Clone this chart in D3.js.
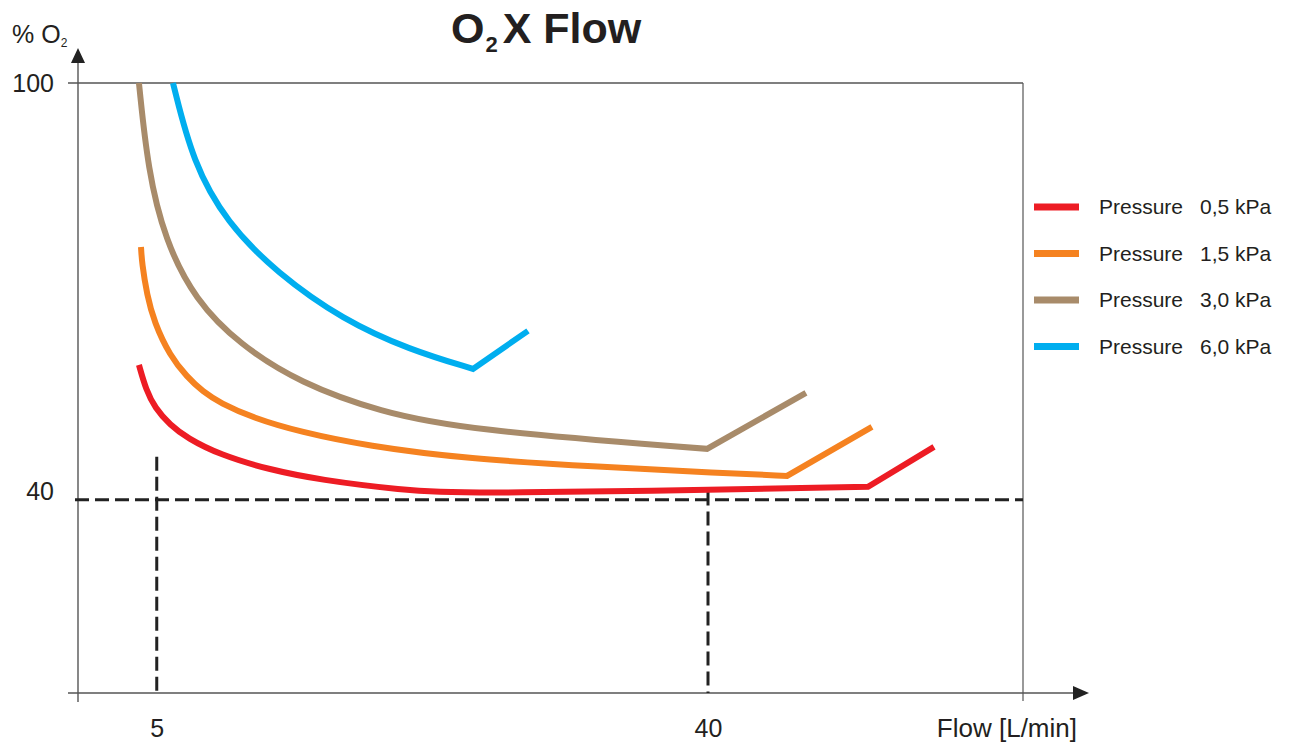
<!DOCTYPE html>
<html><head><meta charset="utf-8">
<script src="https://cdn.jsdelivr.net/npm/d3@7"></script>
<style>
html,body{margin:0;padding:0;background:#fff;}
svg{display:block;font-family:"Liberation Sans",Arial,sans-serif;}
</style></head>
<body><svg id="c" width="1292" height="746"></svg>
<script>
// ---- data ----
const seriesNames = ["Pressure", "Pressure", "Pressure", "Pressure"];
const seriesValues = ["0,5 kPa", "1,5 kPa", "3,0 kPa", "6,0 kPa"];
const colors = ["#ED1C24", "#F58220", "#A88B6A", "#00AEEF"];

// Flow [L/min] and %O2; the last segment of each curve is straight
const flow05 = [3.87, 4.32, 4.89, 5.84, 6.92, 9.02, 12.19, 15.37, 20.44, 24.70, 50.16, 54.35];
const o2_05  = [59.42, 55.83, 53.24, 50.79, 48.92, 46.47, 44.32, 42.88, 41.44, 40.79, 41.87, 47.63];

const flow15 = [4.0, 4.06, 4.38, 4.83, 5.84, 6.92, 7.94, 9.02, 11.11, 14.10, 18.35, 24.70, 33.14, 40.76, 45.02, 50.41];
const o2_15  = [76.40, 74.10, 69.49, 65.61, 60.72, 57.70, 55.54, 53.96, 51.80, 49.78, 47.77, 45.90, 44.75, 43.88, 43.45, 50.50];

const flow30 = [3.87, 4.44, 5.52, 7.43, 10.29, 14.10, 19.17, 24.70, 39.94, 46.22];
const o2_30  = [100, 87.48, 77.41, 68.78, 62.30, 56.83, 52.66, 50.07, 47.34, 55.40];

const flow60 = [6.03, 7.30, 9.46, 12.63, 16.83, 21.08, 25.08, 28.57];
const o2_60  = [100, 88.49, 79.86, 72.66, 65.90, 61.58, 58.85, 64.32];

const xTicks = [5, 40];
const yTicks = [40, 100];
const refO2 = 40;             // horizontal dashed reference
const refFlows = [5, 40];     // vertical dashed references
const refTops = [46.2, 41.2]; // where vertical references start
const xDomain = [0, 60];
const yDomain = [12.2, 100];

const allFlows = [flow05, flow15, flow30, flow60];
const allO2 = [o2_05, o2_15, o2_30, o2_60];

// ---- layout ----
const L = 78, R = 1023, T = 83, B = 693;
const svg = d3.select("#c");
const x = d3.scaleLinear().domain(xDomain).range([L, R]);
const y = d3.scaleLinear().domain(yDomain).range([B, T]);
const axisCol = "#555";
const txtCol = "#231F20";

// title
const title = svg.append("text").attr("x", 451).attr("y", 43)
  .attr("font-size", 43).attr("font-weight", "bold").attr("fill", txtCol);
title.append("tspan").text("O");
title.append("tspan").attr("font-size", 22).attr("dy", 9).attr("dx", 1).text("2");
title.append("tspan").attr("dy", -9).attr("dx", 5).text("X Flow");

// y label
const yl = svg.append("text").attr("x", 12).attr("y", 43).attr("font-size", 25).attr("fill", txtCol);
yl.append("tspan").text("% O");
yl.append("tspan").attr("font-size", 12).attr("dy", 4).text("2");

// box lines
svg.append("line").attr("x1", 68).attr("x2", R).attr("y1", T).attr("y2", T)
  .attr("stroke", axisCol).attr("stroke-width", 1.4);
svg.append("line").attr("x1", R).attr("x2", R).attr("y1", T).attr("y2", B + 8)
  .attr("stroke", axisCol).attr("stroke-width", 1.2);
// y axis line + arrow
svg.append("line").attr("x1", L).attr("x2", L).attr("y1", 60).attr("y2", B + 9)
  .attr("stroke", axisCol).attr("stroke-width", 1.4);
svg.append("path").attr("d", `M${L},48 L${L-7},63 L${L+7},63 Z`).attr("fill", "#222");
// x axis line + arrow
svg.append("line").attr("x1", 68).attr("x2", 1076).attr("y1", B).attr("y2", B)
  .attr("stroke", axisCol).attr("stroke-width", 1.4);
svg.append("path").attr("d", `M1089,${B} L1073,${B-7} L1073,${B+7} Z`).attr("fill", "#222");

// axes labels via d3 axes
const ya = svg.append("g").attr("transform", `translate(${L},0)`)
  .call(d3.axisLeft(y).tickValues(yTicks).tickSize(0).tickPadding(24).tickFormat(d3.format("d")));
ya.select(".domain").remove();
ya.selectAll("text").attr("font-size", 25).attr("font-family", "Liberation Sans, Arial, sans-serif")
  .attr("fill", txtCol).attr("dy", d => d === 40 ? "-0.0em" : "0.32em");

const xa = svg.append("g").attr("transform", `translate(0,${B})`)
  .call(d3.axisBottom(x).tickValues(xTicks).tickSize(0).tickPadding(26).tickFormat(d3.format("d")));
xa.select(".domain").remove();
xa.selectAll("text").attr("font-size", 25).attr("font-family", "Liberation Sans, Arial, sans-serif")
  .attr("fill", txtCol);

svg.append("text").attr("x", 1077).attr("y", 737).attr("text-anchor", "end")
  .attr("font-size", 26).attr("fill", txtCol).text("Flow [L/min]");

// dashed reference lines
const dash = "14,6";
svg.append("line").attr("x1", x(0) - 3).attr("x2", x(60)).attr("y1", y(refO2)).attr("y2", y(refO2))
  .attr("stroke", "#222").attr("stroke-width", 3).attr("stroke-dasharray", dash);
refFlows.forEach((f, i) => {
  svg.append("line").attr("x1", x(f)).attr("x2", x(f)).attr("y1", y(refTops[i])).attr("y2", B)
    .attr("stroke", "#222").attr("stroke-width", 3).attr("stroke-dasharray", dash);
});

// curves: smooth part then straight final segment
const line = d3.line().x(d => x(d[0])).y(d => y(d[1])).curve(d3.curveBasis);
allFlows.forEach((fl, i) => {
  const pts = fl.map((f, j) => [f, allO2[i][j]]);
  const smooth = pts.slice(0, pts.length - 1);
  const last = pts[pts.length - 1];
  const d = line(smooth) + `L${x(last[0])},${y(last[1])}`;
  svg.append("path").attr("d", d).attr("fill", "none").attr("stroke", colors[i])
    .attr("stroke-width", 6).attr("stroke-linejoin", "miter");
});

// legend
const lg = svg.append("g");
colors.forEach((c, i) => {
  const yy = 207 + i * 46.5;
  lg.append("line").attr("x1", 1034).attr("x2", 1079).attr("y1", yy).attr("y2", yy)
    .attr("stroke", c).attr("stroke-width", 7);
  lg.append("text").attr("x", 1099).attr("y", yy + 7).attr("font-size", 21).attr("fill", txtCol)
    .text(seriesNames[i]);
  lg.append("text").attr("x", 1200).attr("y", yy + 7).attr("font-size", 21).attr("fill", txtCol)
    .text(seriesValues[i]);
});
</script></body></html>
